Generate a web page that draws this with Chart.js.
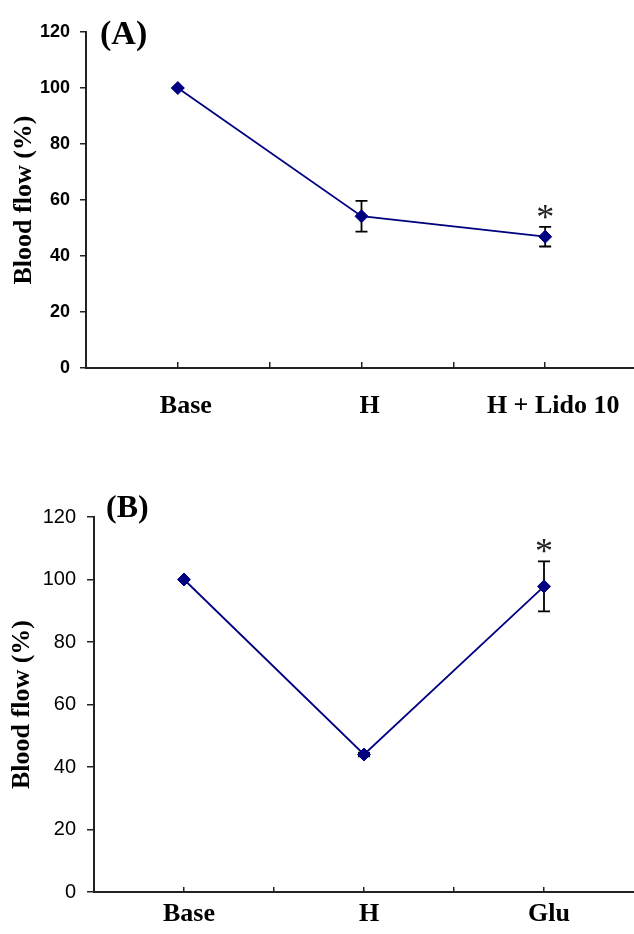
<!DOCTYPE html>
<html>
<head>
<meta charset="utf-8">
<script src="https://cdn.jsdelivr.net/npm/chart.js@4"></script>
<style>
  html, body { margin: 0; padding: 0; background: #fff; overflow: hidden; }
  .panel { position: absolute; left: 0; width: 650px; }
  #panelA { top: 0; height: 440px; }
  #panelB { top: 460px; height: 474px; }
</style>
</head>
<body>
<div class="panel" id="panelA"><canvas id="chartA"></canvas></div>
<div class="panel" id="panelB"><canvas id="chartB"></canvas></div>
<script>
// data
const categoriesA = ['Base', 'H', 'H + Lido 10'];
const categoriesB = ['Base', 'H', 'Glu'];
const xSlots = [1, 3, 5];
const xTickSlots = [1, 2, 3, 4, 5];
const flowA = [100, 54.2, 46.9];
const errA = [0, 5.5, 3.5];
const sigA = ['', '', '*'];
const flowB = [100, 44, 97.8];
const errB = [0, 0.6, 8];
const sigB = ['', '', '*'];
const yTicks = [0, 20, 40, 60, 80, 100, 120];

const axisColor = '#222';
const lineColor = '#000080';

// error bars, asterisks and the panel letter
const errorBarPlugin = {
    id: 'errorBars',
    beforeDatasetsDraw(chart, args, o) {
        const { ctx } = chart;
        const x = chart.scales.x, y = chart.scales.y;
        ctx.save();
        ctx.strokeStyle = '#000';
        ctx.lineWidth = 1.8;
        o.errors.forEach((e, i) => {
            const px = x.getPixelForValue(xSlots[i]);
            const top = y.getPixelForValue(o.values[i] + e);
            const bot = y.getPixelForValue(o.values[i] - e);
            ctx.beginPath();
            ctx.moveTo(px, top); ctx.lineTo(px, bot);
            ctx.moveTo(px - 6, top); ctx.lineTo(px + 6, top);
            ctx.moveTo(px - 6, bot); ctx.lineTo(px + 6, bot);
            ctx.stroke();
        });
        ctx.restore();
    },
    afterDatasetsDraw(chart, args, o) {
        const { ctx, chartArea } = chart;
        const x = chart.scales.x, y = chart.scales.y;
        ctx.save();
        ctx.fillStyle = '#222';
        ctx.font = '36px "Liberation Serif"';
        ctx.textAlign = 'center';
        ctx.textBaseline = 'alphabetic';
        o.marks.forEach((m, i) => {
            if (!m) return;
            const px = x.getPixelForValue(xSlots[i]);
            const top = y.getPixelForValue(o.values[i] + o.errors[i]);
            ctx.fillText(m, px, top + 2);
        });
        ctx.fillStyle = '#000';
        ctx.textAlign = 'left';
        ctx.font = 'bold ' + o.labelSize + 'px "Liberation Serif"';
        ctx.fillText(o.label, chartArea.left + o.labelDx, chartArea.top + o.labelDy);
        ctx.restore();
    }
};

function makeChart(id, cats, vals, errs, marks, s) {
    const ctx = document.getElementById(id).getContext('2d');
    return new Chart(ctx, {
        type: 'scatter',
        data: {
            datasets: [{
                data: vals.map((v, i) => ({ x: xSlots[i], y: v })),
                showLine: true,
                borderColor: lineColor,
                borderWidth: 1.8,
                pointStyle: 'rectRot',
                pointRadius: 6.5,
                pointBackgroundColor: lineColor,
                pointBorderColor: lineColor,
                pointBorderWidth: 1
            }]
        },
        options: {
            responsive: true,
            maintainAspectRatio: false,
            animation: false,
            layout: { padding: { top: s.padTop, right: s.padRight, left: 0, bottom: 0 } },
            plugins: {
                legend: { display: false },
                tooltip: { enabled: false },
                errorBars: {
                    values: vals, errors: errs, marks: marks,
                    label: s.label, labelSize: s.labelSize, labelDx: s.labelDx, labelDy: s.labelDy
                }
            },
            scales: {
                x: {
                    type: 'linear',
                    min: 0,
                    max: 6,
                    afterBuildTicks: scale => { scale.ticks = xTickSlots.map(v => ({ value: v })); },
                    afterFit: scale => { scale.height = s.xHeight; },
                    border: { display: true, color: axisColor, width: 2 },
                    grid: { drawOnChartArea: false, drawTicks: true, tickLength: -s.xTick, color: axisColor, lineWidth: 1.5 },
                    ticks: {
                        padding: s.xPad,
                        labelOffset: s.xLabelShift,
                        autoSkip: false,
                        maxRotation: 0,
                        minRotation: 0,
                        color: '#000',
                        font: { family: 'Liberation Serif', size: 26, weight: 'bold' },
                        callback: v => {
                            const i = xSlots.indexOf(v);
                            return i >= 0 ? cats[i] : '';
                        }
                    }
                },
                y: {
                    min: 0,
                    max: 120,
                    afterBuildTicks: scale => { scale.ticks = yTicks.map(v => ({ value: v })); },
                    afterFit: scale => { scale.width = s.yWidth; },
                    border: { display: true, color: axisColor, width: 2 },
                    grid: { drawOnChartArea: false, drawTicks: true, tickLength: s.yTick, color: axisColor, lineWidth: 1.5 },
                    ticks: {
                        padding: s.yPad,
                        color: '#000',
                        font: { family: 'Liberation Sans', size: s.yTickSize, weight: s.yTickWeight }
                    },
                    title: {
                        display: true,
                        text: 'Blood flow (%)',
                        color: '#000',
                        padding: { top: s.titlePad, bottom: 0 },
                        font: { family: 'Liberation Serif', size: 26, weight: 'bold' }
                    }
                }
            }
        },
        plugins: [errorBarPlugin]
    });
}

makeChart('chartA', categoriesA, flowA, errA, sigA, {
    padTop: 32, padRight: 13, xHeight: 72, yWidth: 86,
    xTick: 6, xPad: 29, xLabelShift: 8, yTick: 6, yPad: 10, titlePad: 9,
    yTickSize: 18, yTickWeight: 'bold',
    label: '(A)', labelSize: 34, labelDx: 14, labelDy: 12
});

makeChart('chartB', categoriesB, flowB, errB, sigB, {
    padTop: 57, padRight: 16, xHeight: 42, yWidth: 94,
    xTick: 5, xPad: 12, xLabelShift: 5, yTick: 7, yPad: 11, titlePad: 7,
    yTickSize: 20, yTickWeight: 'normal',
    label: '(B)', labelSize: 32, labelDx: 12, labelDy: 0
});
</script>
</body>
</html>
